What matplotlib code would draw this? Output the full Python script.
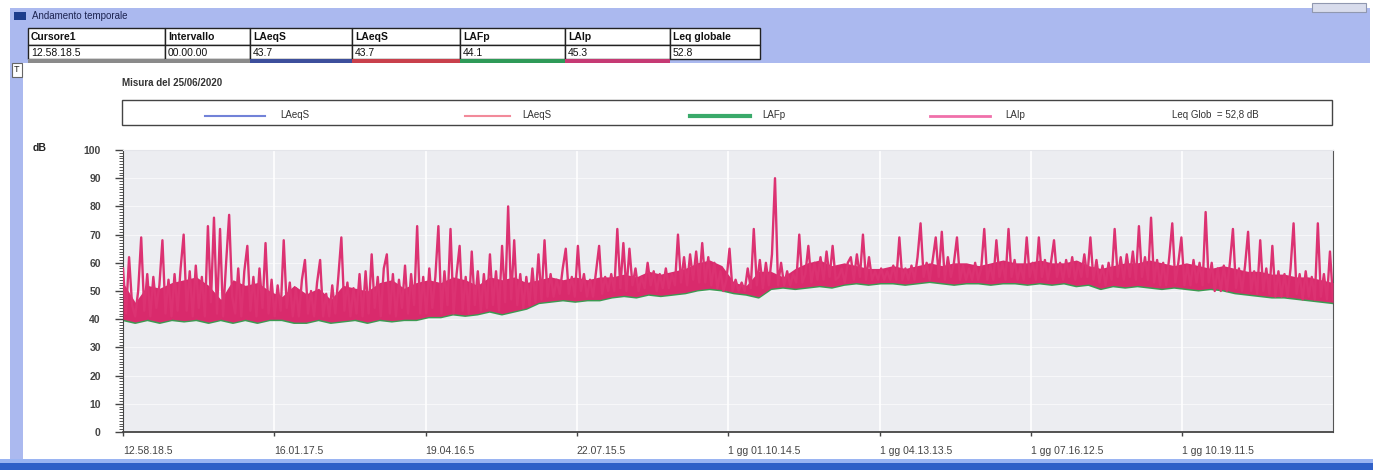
import matplotlib
matplotlib.use("Agg")
import matplotlib.pyplot as plt
from matplotlib.patches import Rectangle
from matplotlib.lines import Line2D
from matplotlib.ticker import MultipleLocator
import numpy as np

plt.rcParams["font.family"] = ["Liberation Sans Narrow", "Liberation Sans", "DejaVu Sans"]

# durata della misura (s) e tacche dell'asse dei tempi
durata = 87800
passo_tacche = 10979
etichette_tempo = ["12.58.18.5", "16.01.17.5", "19.04.16.5", "22.07.15.5",
                   "1 gg 01.10.14.5", "1 gg 04.13.13.5", "1 gg 07.16.12.5", "1 gg 10.19.11.5"]

# LAIp (dB), letto a occhio dal grafico
laip = [
    58, 42, 62, 45, 41, 50, 69, 43, 56, 41, 55, 44, 52, 68, 42, 54, 41, 56, 43, 58,
    70, 43, 57, 41, 59, 44, 55, 41, 73, 46, 76, 42, 72, 41, 60, 77, 48, 42, 58, 41,
    57, 66, 43, 55, 41, 58, 44, 67, 42, 54, 41, 52, 43, 68, 44, 53, 41, 51, 41, 54,
    61, 42, 50, 41, 53, 61, 41, 49, 41, 52, 42, 55, 69, 43, 53, 41, 51, 42, 56, 41,
    57, 42, 63, 44, 55, 41, 58, 63, 42, 56, 41, 54, 44, 59, 42, 56, 45, 73, 42, 55,
    42, 58, 44, 55, 73, 42, 57, 45, 72, 42, 56, 66, 43, 55, 42, 64, 45, 57, 43, 56,
    44, 63, 45, 57, 43, 66, 46, 80, 47, 68, 45, 56, 44, 55, 45, 58, 46, 63, 47, 68,
    48, 56, 48, 54, 49, 58, 65, 49, 55, 48, 66, 50, 56, 48, 54, 48, 57, 66, 49, 55,
    50, 56, 50, 72, 51, 67, 50, 65, 52, 58, 50, 55, 51, 60, 52, 57, 50, 56, 51, 58,
    51, 56, 52, 70, 53, 62, 52, 63, 54, 64, 53, 67, 53, 62, 52, 60, 51, 57, 50, 54,
    65, 50, 54, 50, 53, 50, 58, 51, 72, 52, 61, 51, 60, 52, 63, 90, 52, 60, 52, 57,
    52, 56, 53, 70, 53, 56, 66, 53, 60, 54, 62, 54, 64, 55, 66, 54, 55, 58, 53, 60,
    62, 54, 63, 55, 70, 54, 62, 54, 57, 54, 58, 54, 57, 54, 59, 54, 69, 54, 58, 54,
    59, 54, 62, 74, 55, 60, 54, 61, 69, 55, 71, 54, 62, 55, 60, 69, 54, 59, 54, 58,
    54, 60, 54, 58, 72, 54, 59, 54, 68, 55, 60, 54, 72, 55, 61, 54, 59, 54, 69, 55,
    60, 54, 69, 55, 61, 54, 60, 68, 55, 60, 54, 61, 55, 62, 54, 60, 55, 63, 55, 69,
    54, 61, 53, 59, 52, 60, 54, 72, 55, 62, 54, 63, 55, 64, 54, 73, 55, 62, 54, 76,
    53, 61, 52, 60, 52, 62, 74, 53, 60, 69, 52, 59, 52, 61, 53, 60, 52, 78, 53, 60,
    50, 58, 50, 59, 50, 60, 72, 51, 58, 50, 59, 71, 50, 57, 49, 68, 50, 58, 49, 66,
    48, 57, 48, 56, 48, 58, 74, 49, 56, 47, 57, 48, 55, 47, 74, 48, 56, 47, 64, 47,
]

# LAFp (dB), il fondo verde sotto la traccia rosa
lafp = [
    40, 39, 40, 39, 40, 39.5, 40, 39, 40, 39, 40, 39, 40, 40, 39,
    39, 40, 39, 39.5, 40, 39, 40, 39.5, 40, 40,
    41, 41, 42, 41.5, 42, 43, 42, 43, 44, 46,
    46.5, 47, 46.5, 47, 47,
    48, 48.5, 48, 49, 48.5, 49, 49.5,
    50.5, 51, 50.5,
    49.5, 49, 48,
    51, 51.5, 51, 51.5, 52, 51.5,
    52.5, 53, 52.5, 53, 53, 52.5, 53, 53.5, 53, 52.5, 53, 53, 52.5, 53, 53, 52.5, 53, 52.5, 53, 52, 52.5, 51,
    52, 51.5, 52, 51.5, 51, 51.5, 51, 50.5, 51, 50.5,
    49.5, 49, 48.5, 48, 48, 47.5, 47, 46.5, 46,
]

# livello della fascia rosa piena (LAIp), stessi istanti di LAFp
laip_corpo = [
    53, 46, 52, 51, 53, 54, 55, 52, 47, 54, 52, 53, 50, 48, 52,
    49, 51, 47, 52, 51, 50, 53, 54, 51, 53,
    54, 53, 55, 54, 52, 55, 54, 55, 53, 54,
    55, 54, 55, 54, 55,
    55, 56, 55, 57, 56, 57, 58,
    60, 61, 59,
    53, 52, 57,
    57, 55, 58, 60, 61, 59,
    60, 59, 58, 58, 59, 58, 59, 60, 59, 60, 60, 59, 60, 61, 60, 60, 61, 60, 60, 61, 59, 58,
    59, 60, 60, 61, 60, 59, 60, 59, 58, 59,
    58, 57, 57, 56, 56, 55, 55, 54, 53,
]

# tabella cursore
intestazioni = ["Cursore1", "Intervallo", "LAeqS", "LAeqS", "LAFp", "LAIp", "Leq globale"]
valori = ["12.58.18.5", "00.00.00", "43.7", "43.7", "44.1", "45.3", "52.8"]
colori_tab = ["#8a8a8a", "#8a8a8a", "#3d4f9c", "#c9404c", "#2f9a58", "#c63a74", None]

voci_legenda = ["LAeqS", "LAeqS", "LAFp", "LAIp"]
colori_legenda = ["#7282d8", "#f28a9a", "#3aaa6a", "#f070aa"]
leq_glob = "Leq Glob  = 52,8 dB"

W, H = 1373, 470
fig = plt.figure(figsize=(W / 100, H / 100), dpi=100)
fig.patch.set_facecolor("white")

# ---- cornice della finestra, in pixel ----
cr = fig.add_axes([0, 0, 1, 1])
cr.set_xlim(0, W)
cr.set_ylim(H, 0)
cr.axis("off")

blu = "#abb9ef"
cr.add_patch(Rectangle((10, 8), 1360, 55, color=blu, lw=0))
cr.add_patch(Rectangle((10, 8), 13, 452, color=blu, lw=0))
cr.add_patch(Rectangle((0, 459), W, 4, color="#9ab4f2", lw=0))
cr.add_patch(Rectangle((0, 463), W, 7, color="#2f60c8", lw=0))
cr.add_patch(Rectangle((1312, 3), 54, 9, facecolor="#d8dcec", edgecolor="#9098b0", lw=0.8))
cr.add_patch(Rectangle((14, 12), 12, 8, color="#1e3e8c", lw=0))
cr.text(32, 16, "Andamento temporale", fontsize=7, color="#1c2350", va="center")

cr.add_patch(Rectangle((12, 63), 10, 14, facecolor="white", edgecolor="#666", lw=0.8))
cr.text(17, 70, "T", fontsize=6.5, ha="center", va="center", color="#222")

bordi = [28, 165, 250, 352, 460, 565, 670, 760]
for i in range(len(intestazioni)):
    x0, x1 = bordi[i], bordi[i + 1]
    cr.add_patch(Rectangle((x0, 28), x1 - x0, 17, facecolor="white", edgecolor="#222", lw=1))
    cr.add_patch(Rectangle((x0, 45), x1 - x0, 14, facecolor="white", edgecolor="#222", lw=1))
    if colori_tab[i]:
        cr.add_patch(Rectangle((x0, 59), x1 - x0, 4, color=colori_tab[i], lw=0))
    cr.text(x0 + 3, 37, intestazioni[i], fontsize=7.5, fontweight="bold", va="center", color="#111")
    cr.text(x0 + 3, 52.5, valori[i], fontsize=7.5, va="center", color="#111")

cr.text(122, 83, "Misura del 25/06/2020", fontsize=7, fontweight="bold", va="center", color="#333")

cr.add_patch(Rectangle((122, 100), 1210, 25, facecolor="white", edgecolor="#444", lw=1))
pos_legenda = [(205, 265, 280), (465, 510, 522), (690, 750, 762), (930, 990, 1005)]
spessori = [1.5, 1.5, 3, 2]
for (xa, xb, xt), nome, col, lw in zip(pos_legenda, voci_legenda, colori_legenda, spessori):
    cr.add_line(Line2D([xa, xb], [116, 116], color=col, lw=lw))
    cr.text(xt, 115.5, nome, fontsize=7, va="center", color="#333")
cr.text(1172, 115.5, leq_glob, fontsize=7, va="center", color="#333")
cr.text(33, 148, "dB", fontsize=7.5, fontweight="bold", va="center", color="#222")

# ---- grafico ----
ax = fig.add_axes([123 / W, 38 / H, 1210 / W, 282 / H])
ax.set_facecolor("#ecedf1")

t_lafp = np.linspace(0, durata, len(lafp))
t_laip = np.linspace(0, durata, len(laip))
ax.plot(t_lafp, lafp, color="#3c9a52", lw=2.8, zorder=2)
ax.fill_between(t_lafp, lafp, laip_corpo, color="#d92a6c", lw=0, zorder=3)
ax.plot(t_laip, laip, color="#dc3272", lw=1.7, zorder=4)

ax.set_xlim(0, durata)
ax.set_ylim(0, 100)
ax.set_xticks([k * passo_tacche for k in range(len(etichette_tempo))])
ax.set_xticklabels(etichette_tempo, ha="left")
ax.yaxis.set_major_locator(MultipleLocator(10))
ax.yaxis.set_minor_locator(MultipleLocator(1))
ax.tick_params(axis="y", which="major", length=6, width=1, color="#444",
               labelsize=7.5, labelcolor="#444", pad=10)
ax.tick_params(axis="y", which="minor", length=3, width=0.7, color="#555")
ax.tick_params(axis="x", length=3, width=1, color="#444", labelsize=7.5, labelcolor="#444", pad=7)
for lab in ax.get_yticklabels():
    lab.set_fontweight("bold")
ax.grid(True, axis="x", color="white", lw=1.2)
ax.grid(True, axis="y", color="white", lw=0.6, alpha=0.7)
ax.set_axisbelow(True)
ax.spines["left"].set_color("#444")
ax.spines["bottom"].set_color("#444")
ax.spines["bottom"].set_linewidth(1.3)
ax.spines["right"].set_color("#555")
ax.spines["top"].set_color("#e4e5ea")

fig.savefig("out.png", dpi=100)
